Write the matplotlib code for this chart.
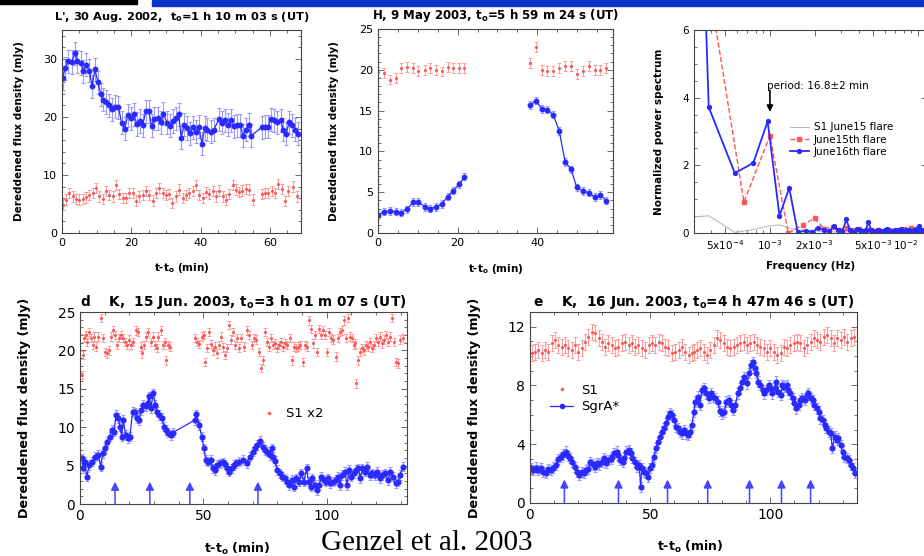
import matplotlib.pyplot as plt
from matplotlib.patches import Rectangle
from matplotlib.lines import Line2D
from matplotlib.ticker import MultipleLocator, FixedLocator, NullFormatter

plt.rcParams['font.family'] = ['DejaVu Sans']
plt.rcParams['mathtext.default'] = 'regular'

# ---- panel a : L', 30 Aug 2002 ----
t_a_sgr = [0.2, 0.9, 1.8, 2.8, 3.8, 4.4, 5.4, 6.2, 6.9, 7.9, 8.7, 9.5, 10.4, 11.2, 11.9,
           12.7, 13.7, 14.5, 15.4, 16.3, 17.2, 18.1, 19.0, 19.9, 20.7, 21.6, 22.5, 23.3,
           24.2, 25.0, 25.9, 26.7, 27.6, 28.6, 29.3, 30.3, 31.2, 32.1, 32.9, 33.7, 34.4,
           35.3, 36.1, 36.9, 37.7, 38.7, 39.5, 40.4, 41.2, 42.0, 42.9, 43.8, 45.3, 46.2,
           47.0, 47.9, 48.9, 49.6, 50.6, 51.5, 52.2, 53.1, 54.0, 54.7, 57.6, 58.5, 59.5,
           60.3, 61.3, 62.1, 63.1, 63.9, 64.7, 65.6, 66.5, 67.4, 68.2]
f_a_sgr = [26.7, 28.4, 29.6, 29.5, 31.0, 29.6, 29.3, 27.9, 29.0, 28.0, 25.3, 28.2, 26.0,
           23.9, 23.0, 22.6, 22.0, 21.3, 21.8, 21.7, 19.0, 18.0, 20.3, 19.8, 20.5, 18.8,
           19.3, 18.6, 21.0, 21.0, 18.5, 19.7, 19.8, 19.1, 20.6, 19.0, 18.5, 19.3, 19.8,
           20.5, 16.4, 18.7, 18.1, 17.2, 18.2, 17.5, 18.3, 15.4, 18.1, 17.8, 17.5, 17.8,
           19.6, 19.0, 19.4, 18.7, 19.4, 18.4, 18.6, 18.6, 16.8, 17.8, 18.7, 16.8, 18.2,
           18.3, 18.3, 19.6, 19.4, 19.1, 19.4, 17.8, 17.1, 19.1, 18.6, 17.8, 17.1]
t_a_s1 = [0.2, 1.2, 2.1, 3.1, 4.0, 5.0, 6.0, 6.9, 7.9, 8.9, 9.8, 10.8, 11.7, 12.7, 13.7,
          14.6, 15.6, 16.6, 17.5, 18.5, 19.4, 20.4, 21.4, 22.3, 23.3, 24.2, 25.2, 26.2,
          27.1, 28.1, 29.1, 30.0, 31.0, 31.9, 32.9, 33.9, 34.8, 35.8, 36.8, 37.7, 38.7,
          39.6, 40.6, 41.6, 42.5, 43.5, 44.4, 45.4, 46.4, 47.3, 48.3, 49.3, 50.2, 51.2,
          52.1, 53.1, 54.1, 55.0, 57.6, 58.6, 59.6, 60.5, 61.5, 62.4, 63.4, 64.4, 65.3,
          66.8, 67.9]
f_a_s1 = [4.9, 5.75, 6.9, 6.3, 5.9, 5.75, 5.9, 6.15, 6.6, 6.9, 7.8, 6.3, 5.9, 7.2, 6.6,
          6.3, 8.3, 6.7, 6.0, 6.0, 6.9, 6.9, 5.6, 6.3, 6.6, 7.2, 6.6, 5.6, 6.9, 7.8,
          6.9, 6.6, 6.7, 5.2, 6.3, 7.5, 6.0, 6.6, 6.9, 7.2, 8.3, 6.6, 6.0, 7.1, 6.7,
          7.2, 6.3, 7.3, 6.3, 5.75, 6.7, 8.3, 7.5, 7.1, 7.3, 7.6, 7.5, 5.75, 6.7, 6.9,
          6.9, 7.2, 6.9, 8.45, 7.6, 5.5, 7.2, 8.0, 6.3]

# ---- panel b : H, 9 May 2003 (two runs with a gap) ----
t_b1 = [0.1, 1.5, 3.0, 4.5, 5.7, 7.2, 8.9, 10.1, 11.8, 13.1, 14.6, 16.0, 17.5, 18.9, 20.4, 21.7]
f_b1_sgr = [2.2, 2.6, 2.7, 2.6, 2.5, 2.9, 3.8, 3.8, 3.2, 3.0, 3.2, 3.55, 4.45, 5.2, 5.96, 6.9]
f_b1_s1 = [19.7, 19.6, 18.8, 19.0, 20.2, 20.3, 20.2, 19.9, 20.0, 20.2, 20.0, 19.8, 20.3, 20.2, 20.2, 20.2]
t_b2 = [38.2, 39.7, 41.1, 42.5, 44.0, 45.5, 47.0, 48.5, 49.9, 51.4, 52.9, 54.4, 55.8, 57.3]
f_b2_sgr = [15.7, 16.2, 15.2, 15.1, 14.5, 12.5, 8.7, 7.8, 5.6, 5.15, 4.95, 4.4, 4.65, 3.95]
f_b2_s1 = [20.8, 22.8, 20.0, 19.9, 19.9, 20.2, 20.5, 20.5, 19.5, 19.9, 20.5, 20.0, 20.0, 20.2]

# ---- panel c : power spectra ----
freq_16 = [1.93e-4, 3.86e-4, 5.79e-4, 7.72e-4, 9.65e-4, 1.16e-3, 1.35e-3, 1.54e-3, 1.74e-3,
           1.93e-3, 2.12e-3, 2.32e-3, 2.51e-3, 2.70e-3, 2.90e-3, 3.09e-3, 3.28e-3, 3.47e-3,
           3.67e-3, 3.86e-3, 4.05e-3, 4.25e-3, 4.44e-3, 4.63e-3, 4.83e-3, 5.02e-3, 5.21e-3,
           5.40e-3, 5.60e-3, 5.79e-3, 5.98e-3, 6.18e-3, 6.37e-3, 6.56e-3, 6.76e-3, 6.95e-3,
           7.14e-3, 7.33e-3, 7.53e-3, 7.72e-3, 7.91e-3, 8.11e-3, 8.30e-3, 8.49e-3, 8.69e-3,
           8.88e-3, 9.07e-3, 9.26e-3, 9.46e-3, 9.65e-3, 9.84e-3, 1.004e-2, 1.023e-2, 1.042e-2,
           1.062e-2, 1.081e-2, 1.100e-2, 1.119e-2]
pow_16 = [44.0, 3.72, 1.77, 2.07, 3.3, 0.51, 1.33, 0.02, 0.07, 0.03, 0.15, 0.1, 0.05, 0.2,
          0.1, 0.06, 0.4, 0.08, 0.04, 0.12, 0.08, 0.05, 0.1, 0.32, 0.08, 0.04, 0.06, 0.1,
          0.05, 0.03, 0.08, 0.12, 0.05, 0.03, 0.06, 0.1, 0.04, 0.08, 0.05, 0.12, 0.06, 0.03,
          0.08, 0.05, 0.1, 0.04, 0.06, 0.03, 0.08, 0.12, 0.05, 0.04, 0.2, 0.06, 0.1, 0.05,
          0.08, 0.04]
freq_15 = [3.33e-4, 6.67e-4, 1.0e-3, 1.33e-3, 1.67e-3, 2.0e-3, 2.33e-3, 2.67e-3, 3.0e-3,
           3.33e-3, 3.67e-3, 4.0e-3, 4.33e-3, 4.67e-3, 5.0e-3, 5.33e-3, 5.67e-3, 6.0e-3,
           6.33e-3, 6.67e-3, 7.0e-3, 7.33e-3, 7.67e-3, 8.0e-3, 8.33e-3, 8.67e-3, 9.0e-3,
           9.33e-3, 9.67e-3, 1.0e-2, 1.033e-2, 1.067e-2, 1.1e-2, 1.133e-2]
pow_15 = [9.1, 0.92, 2.87, 0.0, 0.24, 0.43, 0.12, 0.19, 0.1, 0.15, 0.08, 0.12, 0.06, 0.1,
          0.05, 0.08, 0.04, 0.06, 0.1, 0.05, 0.07, 0.04, 0.08, 0.12, 0.06, 0.05, 0.15, 0.08,
          0.05, 0.1, 0.06, 0.07, 0.04, 0.05]
pow_s1 = [0.4, 0.51, 0.02, 0.1, 0.2, 0.24, 0.15, 0.08, 0.1, 0.05, 0.06, 0.04, 0.05, 0.03,
          0.04, 0.05, 0.03, 0.04, 0.02, 0.03, 0.04, 0.02, 0.03, 0.02, 0.03, 0.02, 0.03, 0.02,
          0.02, 0.03, 0.02, 0.02, 0.03, 0.02, 0.02, 0.03, 0.02, 0.02, 0.02, 0.03, 0.02, 0.02,
          0.02, 0.02, 0.03, 0.02, 0.02, 0.02, 0.02, 0.02, 0.02, 0.02, 0.02, 0.02, 0.02, 0.02,
          0.02, 0.02]

# ---- panel d : K, 15 Jun 2003 ----
t_d_sgr = [0.7, 1.35, 2.0, 2.7, 3.8, 4.7, 6.1, 7.4, 8.4, 9.2, 10.1, 11.1, 12.1, 12.8, 13.8,
           14.6, 15.5, 16.2, 16.9, 17.5, 18.5, 19.3, 20.2, 21.3, 22.3, 23.2, 24.0, 24.7,
           25.6, 26.6, 27.4, 28.1, 28.7, 29.7, 30.5, 31.3, 32.1, 33.1, 34.0, 34.8, 35.8,
           36.7, 37.5, 46.6, 47.2, 48.3, 49.3, 50.2, 51.0, 52.0, 52.9, 53.7, 54.7, 55.6,
           56.7, 57.8, 58.7, 59.4, 60.5, 61.4, 62.3, 63.4, 64.5, 66.1, 67.5, 68.8, 69.9,
           70.9, 71.8, 72.9, 74.0, 74.9, 75.8, 76.9, 77.6, 78.3, 79.1, 79.9, 81.0, 82.0,
           83.0, 83.7, 84.7, 85.7, 86.6, 87.7, 88.8, 89.7, 90.7, 91.8, 92.6, 93.4, 94.2,
           95.1, 96.1, 96.9, 97.8, 98.8, 99.6, 100.5, 101.5, 102.6, 103.6, 104.6, 105.3,
           106.3, 107.3, 108.2, 109.0, 110.0, 110.9, 112.0, 112.8, 113.6, 114.4, 115.4,
           116.3, 117.4, 118.5, 119.4, 120.4, 121.5, 122.5, 123.6, 124.8, 125.8, 126.9,
           127.9, 128.9, 129.8, 130.9]
f_d_sgr = [5.95, 4.64, 5.5, 3.56, 5.08, 5.5, 6.16, 6.38, 4.86, 6.6, 7.25, 8.12, 8.77, 9.64,
           9.42, 11.6, 11.2, 10.07, 8.77, 10.94, 8.98, 8.55, 8.77, 12.03, 11.94, 11.2, 10.94,
           12.25, 12.9, 12.7, 13.1, 14.0, 12.47, 14.4, 12.9, 12.03, 11.6, 11.2, 10.07, 9.64,
           9.29, 8.98, 9.29, 10.94, 11.68, 10.29, 8.77, 7.25, 5.73, 5.5, 5.73, 4.64, 4.43,
           5.08, 5.29, 5.43, 5.16, 4.64, 4.2, 4.64, 5.08, 5.29, 5.5, 5.73, 5.29, 6.16, 6.81,
           7.25, 7.68, 8.2, 7.47, 7.03, 6.81, 6.38, 7.25, 6.16, 5.6, 4.43, 4.0, 3.56, 3.34,
           2.9, 2.47, 3.12, 2.25, 3.34, 2.9, 4.0, 2.9, 4.64, 2.9, 2.25, 3.34, 2.47, 1.82,
           2.47, 3.56, 3.12, 2.9, 3.34, 2.69, 2.9, 3.12, 3.56, 2.47, 3.77, 4.2, 2.47, 4.43,
           3.56, 4.0, 4.43, 4.64, 3.34, 4.64, 4.2, 4.86, 3.77, 4.0, 3.77, 4.2, 3.34, 3.77,
           4.0, 3.12, 4.2, 3.56, 2.69, 2.9, 3.77, 4.86]
t_d_s1 = [0.7, 1.1, 1.6, 2.4, 3.0, 3.8, 4.3, 5.1, 5.7, 6.5, 7.4, 8.4, 9.2, 10.1, 10.8, 11.6,
          12.4, 13.2, 14.0, 14.8, 15.7, 16.5, 17.3, 18.1, 18.9, 19.7, 20.5, 21.6, 22.7, 23.6,
          24.6, 25.1, 25.9, 26.7, 27.7, 28.6, 29.4, 30.2, 31.0, 31.8, 32.7, 33.5, 34.3, 34.8,
          35.6, 36.4, 46.6, 47.5, 48.3, 49.3, 50.2, 50.7, 51.6, 52.4, 53.2, 54.0, 54.8, 55.6,
          56.4, 57.2, 58.0, 58.8, 59.6, 60.5, 61.3, 62.1, 62.9, 63.7, 64.5, 65.4, 66.4, 67.5,
          68.6, 69.5, 70.5, 71.5, 72.6, 73.4, 74.2, 75.0, 75.8, 76.6, 77.5, 78.3, 79.1, 79.9,
          80.7, 81.5, 82.3, 83.1, 83.9, 85.0, 85.8, 86.6, 87.7, 88.5, 89.3, 90.4, 91.2, 92.0,
          92.8, 93.7, 94.5, 95.3, 96.1, 96.9, 97.7, 98.5, 99.3, 100.1, 101.0, 101.8, 102.6,
          103.6, 104.5, 105.3, 106.1, 106.9, 107.7, 108.5, 109.3, 110.1, 110.9, 111.5, 112.0,
          112.8, 113.4, 114.2, 115.0, 115.8, 116.6, 117.4, 118.2, 119.0, 119.8, 120.6, 121.5,
          122.3, 123.1, 123.9, 124.7, 125.5, 126.3, 127.1, 127.9, 129.0, 129.8, 130.9]
f_d_s1 = [16.8, 19.4, 21.6, 22.0, 21.1, 22.4, 21.6, 20.7, 21.8, 20.5, 21.8, 24.2, 21.6, 19.8,
          19.6, 20.0, 21.8, 22.6, 22.0, 20.7, 21.6, 22.0, 21.6, 21.1, 20.7, 21.4, 20.7, 21.1,
          22.6, 22.4, 20.5, 19.6, 20.7, 21.8, 22.4, 21.1, 21.8, 20.7, 20.3, 21.8, 22.6, 20.7,
          21.1, 18.7, 20.7, 20.5, 21.6, 21.1, 20.8, 21.8, 22.0, 18.5, 20.3, 22.4, 20.8, 20.0,
          20.5, 19.6, 20.7, 21.8, 20.4, 19.4, 20.3, 23.3, 21.4, 22.4, 20.7, 21.6, 20.3, 21.6,
          20.5, 22.6, 22.0, 20.7, 21.6, 21.4, 19.8, 17.7, 18.7, 22.4, 21.1, 20.5, 21.6, 20.7,
          20.9, 20.3, 20.7, 21.1, 20.5, 20.9, 20.7, 21.6, 18.7, 20.5, 20.3, 20.5, 20.7, 18.5,
          20.7, 20.5, 23.9, 22.8, 20.9, 22.0, 19.8, 22.8, 22.0, 22.6, 22.0, 19.8, 22.4, 21.6,
          21.4, 19.2, 21.6, 22.4, 22.6, 23.9, 21.6, 24.2, 21.8, 21.6, 20.7, 20.9, 15.7, 18.7,
          19.8, 20.3, 20.0, 20.7, 20.5, 21.1, 20.3, 20.7, 21.6, 21.1, 21.8, 20.9, 21.4, 22.0,
          21.1, 21.8, 24.2, 21.1, 18.5, 18.3, 21.4, 21.6]
arrows_d = [14.2, 28.3, 44.5, 72.1]

# ---- panel e : K, 16 Jun 2003 ----
t_e_sgr = [0.4, 1.4, 2.4, 3.5, 4.6, 5.6, 6.5, 7.6, 8.75, 9.7, 10.7, 11.8, 12.9, 13.9, 14.9,
           16.0, 16.8, 17.6, 18.75, 19.6, 20.4, 21.5, 22.4, 23.2, 24.3, 25.1, 26.0, 27.1,
           27.9, 28.75, 29.9, 30.7, 31.5, 32.6, 33.5, 34.3, 35.1, 36.1, 36.8, 37.6, 38.5,
           39.3, 40.1, 41.0, 41.8, 42.6, 43.75, 44.6, 45.4, 46.0, 46.5, 47.4, 48.2, 49.0,
           49.9, 50.7, 51.5, 52.4, 53.2, 54.0, 54.9, 55.7, 56.5, 57.4, 58.2, 59.0, 59.9,
           60.7, 61.5, 62.4, 63.2, 64.0, 64.9, 65.7, 66.5, 67.4, 68.2, 68.75, 69.7, 70.6,
           71.5, 72.5, 73.3, 74.3, 75.3, 76.1, 77.1, 78.1, 78.9, 79.9, 80.8, 81.7, 82.6,
           83.6, 84.4, 85.4, 86.4, 87.2, 88.2, 89.2, 90.3, 91.1, 91.9, 92.8, 93.5, 94.2,
           95.0, 95.8, 96.7, 97.5, 98.3, 99.2, 100.0, 100.8, 101.7, 102.5, 103.3, 104.2,
           105.0, 105.8, 106.7, 107.5, 108.3, 109.2, 110.0, 110.8, 111.7, 112.5, 113.3,
           114.2, 115.0, 115.8, 116.7, 117.5, 118.3, 119.2, 120.0, 120.8, 121.7, 122.5,
           123.3, 124.2, 125.0, 125.8, 126.7, 127.5, 128.3, 129.2, 130.0, 130.8, 131.7,
           132.5, 133.3, 134.2, 135.0]
f_e_sgr = [2.36, 2.25, 2.41, 2.25, 2.36, 2.13, 2.02, 2.32, 2.25, 2.41, 2.59, 3.0, 3.15, 3.31,
           3.5, 3.22, 3.04, 2.81, 2.47, 2.13, 1.91, 2.13, 2.02, 2.25, 2.32, 2.81, 2.63, 2.47,
           2.7, 2.63, 2.77, 3.04, 2.7, 2.93, 3.0, 3.15, 3.38, 3.5, 3.27, 2.93, 2.77, 3.04,
           3.5, 3.61, 3.38, 3.04, 2.81, 2.47, 2.59, 1.11, 2.36, 2.13, 2.02, 1.79, 2.36, 2.59,
           3.15, 3.72, 4.17, 4.51, 4.86, 5.09, 5.42, 5.88, 6.1, 5.99, 5.65, 5.2, 5.09, 4.86,
           4.74, 4.97, 4.74, 4.63, 4.86, 5.31, 6.22, 6.9, 7.24, 6.67, 7.69, 7.8, 7.46, 7.13,
           7.46, 7.24, 7.13, 6.9, 6.26, 6.1, 6.22, 6.9, 7.01, 6.67, 6.33, 6.67, 7.46, 7.8,
           8.26, 8.6, 8.14, 8.83, 9.4, 9.62, 9.17, 8.83, 8.26, 8.03, 7.69, 7.46, 7.69, 8.03,
           7.8, 7.46, 7.8, 8.26, 7.58, 7.35, 8.03, 7.92, 8.03, 7.69, 7.46, 7.13, 6.78, 6.44,
           6.67, 7.01, 7.13, 7.01, 7.35, 7.46, 7.13, 7.01, 6.67, 6.44, 6.22, 5.76, 5.65, 5.31,
           5.09, 4.86, 4.74, 3.72, 4.52, 4.29, 4.4, 3.95, 3.5, 3.15, 3.04, 2.93, 2.59, 2.36,
           2.02]
t_e_s1 = [0.7, 2.1, 3.5, 4.9, 6.25, 7.6, 9.0, 10.4, 11.8, 13.2, 14.6, 16.0, 17.4, 18.75,
          20.1, 21.5, 22.9, 24.3, 25.7, 27.1, 28.5, 29.9, 31.25, 32.6, 34.0, 35.4, 36.8,
          38.2, 39.6, 41.0, 42.4, 43.75, 45.1, 46.5, 47.9, 49.3, 50.7, 52.1, 53.5, 54.9,
          56.25, 57.6, 59.0, 60.4, 61.8, 63.2, 64.6, 66.0, 67.4, 68.1, 69.4, 70.8, 72.2,
          73.6, 75.0, 76.4, 77.8, 79.2, 80.6, 81.9, 83.3, 84.7, 86.1, 87.5, 88.9, 90.3,
          91.7, 93.1, 94.4, 95.8, 97.2, 98.6, 100.0, 101.4, 102.8, 104.2, 105.6, 106.9,
          108.3, 109.7, 111.1, 112.5, 113.9, 115.3, 116.7, 118.1, 119.4, 120.8, 122.2,
          123.6, 125.0, 126.4, 127.8, 129.2, 130.6, 131.9, 133.3, 134.7]
f_e_s1 = [10.19, 10.3, 10.42, 10.19, 10.42, 10.3, 10.87, 11.1, 10.76, 10.64, 10.76, 10.53,
          10.42, 10.76, 10.3, 10.53, 10.98, 11.32, 11.66, 11.55, 11.21, 10.98, 10.64, 10.87,
          10.76, 10.53, 10.64, 10.87, 10.98, 10.76, 10.87, 10.64, 10.76, 10.53, 10.42, 10.76,
          10.87, 10.76, 10.98, 10.87, 10.64, 10.53, 10.19, 10.3, 10.42, 10.64, 10.3, 10.08,
          10.19, 10.3, 10.42, 10.53, 10.3, 10.08, 10.42, 10.76, 11.21, 11.1, 10.87, 10.64,
          10.53, 10.64, 10.76, 10.87, 10.98, 10.76, 10.87, 10.98, 10.76, 10.64, 10.53, 10.3,
          10.53, 10.3, 10.08, 10.19, 10.64, 10.53, 10.76, 10.87, 10.98, 10.87, 10.53, 10.76,
          10.98, 11.21, 11.1, 10.98, 11.32, 11.44, 11.21, 10.87, 11.21, 11.1, 11.32, 10.98,
          11.21, 11.32]
arrows_e = [14.3, 36.8, 57.2, 73.9, 91.3, 104.6, 116.7]

BLUE = '#2a2aff'
BLUE_ERR = '#9a9aff'
RED = '#ff5555'
RED_ERR = '#ff9a9a'
FLUX_LABEL = 'Dereddened flux density (mJy)'


def frame(ax, xmaj, xmin, ymaj, ymin, size):
    ax.xaxis.set_major_locator(MultipleLocator(xmaj))
    ax.xaxis.set_minor_locator(MultipleLocator(xmin))
    ax.yaxis.set_major_locator(MultipleLocator(ymaj))
    ax.yaxis.set_minor_locator(MultipleLocator(ymin))
    ax.tick_params(which='both', direction='in', top=True, right=True,
                   labelsize=size, width=0.6, color='#555555')
    ax.tick_params(which='major', length=4)
    ax.tick_params(which='minor', length=2)
    for s in ax.spines.values():
        s.set_linewidth(0.8)
        s.set_color('#444444')


def sgr(ax, t, f, err, ms):
    ax.errorbar(t, f, yerr=err, fmt='-o', color=BLUE, ms=ms, lw=0.9,
                ecolor=BLUE_ERR, elinewidth=0.8, capsize=1.5, capthick=0.8)


def s1(ax, t, f, err):
    ax.errorbar(t, f, yerr=err, fmt='.', color=RED, ms=2.5,
                ecolor=RED_ERR, elinewidth=0.7, capsize=1.3, capthick=0.7)


def arrows(ax, ts, top):
    for t in ts:
        ax.annotate('', xy=(t, top), xytext=(t, 0),
                    arrowprops=dict(arrowstyle='-|>', color='#4545ff', lw=1.1,
                                    mutation_scale=12, shrinkA=0, shrinkB=0))


fig = plt.figure(figsize=(9.24, 5.56), dpi=100)

# slide header bars
fig.patches.append(Rectangle((0, 1 - 4 / 556), 137 / 924, 4 / 556, transform=fig.transFigure,
                             color='black', zorder=0))
fig.patches.append(Rectangle((152 / 924, 1 - 6 / 556), 772 / 924, 6 / 556, transform=fig.transFigure,
                             color='#0a33cc', zorder=0))

# panel a
ax = fig.add_axes([62 / 924, 1 - 233 / 556, 239 / 924, 203 / 556])
s1(ax, t_a_s1, f_a_s1, 0.9)
sgr(ax, t_a_sgr, f_a_sgr, 2.0, 3.2)
ax.set_xlim(0, 69)
ax.set_ylim(0, 35)
frame(ax, 20, 5, 10, 2, 8)
ax.set_title("L', 30 Aug. 2002,  t$_o$=1 h 10 m 03 s (UT)", fontsize=8.2,
             fontweight='bold', pad=7)
ax.set_ylabel(FLUX_LABEL, fontsize=7.5, fontweight='bold')
ax.set_xlabel('t-t$_o$ (min)', fontsize=7.5, fontweight='bold')
ax.yaxis.set_label_coords(-0.16, 0.5)
ax.xaxis.set_label_coords(0.5, -0.14)

# panel b
ax = fig.add_axes([378 / 924, 1 - 233 / 556, 235 / 924, 204 / 556])
s1(ax, t_b1, f_b1_s1, 0.6)
s1(ax, t_b2, f_b2_s1, 0.6)
sgr(ax, t_b1, f_b1_sgr, 0.45, 3.2)
sgr(ax, t_b2, f_b2_sgr, 0.45, 3.2)
ax.set_xlim(0, 59)
ax.set_ylim(0, 25)
frame(ax, 20, 5, 5, 1, 8)
ax.set_title('H, 9 May 2003, t$_o$=5 h 59 m 24 s (UT)', fontsize=8.5,
             fontweight='bold', pad=7)
ax.set_ylabel(FLUX_LABEL, fontsize=7.5, fontweight='bold')
ax.set_xlabel('t-t$_o$ (min)', fontsize=7.5, fontweight='bold')
ax.yaxis.set_label_coords(-0.165, 0.5)
ax.xaxis.set_label_coords(0.5, -0.14)

# panel c
ax = fig.add_axes([694 / 924, 1 - 233 / 556, 233 / 924, 203 / 556])
ax.plot(freq_16, pow_s1, '-', color='#bbbbbb', lw=0.8, label='S1 June15 flare')
ax.plot(freq_15, pow_15, '--', color=RED, lw=1.0, marker='s', ms=2.2, label='June15th flare')
ax.plot(freq_16, pow_16, '-', color=BLUE, lw=1.3, marker='o', ms=2.8, label='June16th flare')
ax.set_xscale('log')
ax.set_xlim(3.07e-4, 1.15e-2)
ax.set_ylim(0, 6)
ax.yaxis.set_major_locator(MultipleLocator(2))
ax.yaxis.set_minor_locator(MultipleLocator(0.5))
ax.xaxis.set_major_locator(FixedLocator([5e-4, 1e-3, 2e-3, 5e-3, 1e-2]))
ax.set_xticklabels(['5x10$^{-4}$', '10$^{-3}$', '2x10$^{-3}$', '5x10$^{-3}$', '10$^{-2}$'])
ax.get_xticklabels()[-1].set_horizontalalignment('right')
ax.xaxis.set_minor_formatter(NullFormatter())
ax.tick_params(which='both', direction='in', top=True, right=True, labelsize=7.5,
               width=0.6, color='#555555')
ax.tick_params(which='major', length=4)
ax.tick_params(which='minor', length=2)
for s in ax.spines.values():
    s.set_linewidth(0.8)
    s.set_color('#444444')
ax.annotate('', xy=(1e-3, 3.58), xytext=(1e-3, 4.22),
            arrowprops=dict(arrowstyle='-|>', color='black', lw=1.2, mutation_scale=9,
                            shrinkA=0, shrinkB=0))
ax.text(2.1e-3, 4.35, 'period: 16.8±2 min', fontsize=7.5, ha='center', va='center')
ax.legend(loc='upper left', bbox_to_anchor=(0.39, 0.57), frameon=False, fontsize=7.5,
          handlelength=1.8, handletextpad=0.5, labelspacing=0.2, borderpad=0)
ax.set_ylabel('Normalized power spectrum', fontsize=7.5, fontweight='bold')
ax.set_xlabel('Frequency (Hz)', fontsize=7.5, fontweight='bold')
ax.yaxis.set_label_coords(-0.13, 0.5)
ax.xaxis.set_label_coords(0.5, -0.14)

# panel d
ax = fig.add_axes([80 / 924, 1 - 504 / 556, 327 / 924, 192 / 556])
s1(ax, t_d_s1, f_d_s1, 0.55)
sgr(ax, t_d_sgr, f_d_sgr, 0.6, 3.4)
arrows(ax, arrows_d, 2.9)
ax.set_xlim(0, 132.5)
ax.set_ylim(0, 25)
frame(ax, 50, 10, 5, 1, 10)
ax.set_title('d    K,  15 Jun. 2003, t$_o$=3 h 01 m 07 s (UT)', fontsize=9.8,
             fontweight='bold', pad=4)
ax.set_ylabel(FLUX_LABEL, fontsize=9.2, fontweight='bold')
ax.set_xlabel('t-t$_o$ (min)', fontsize=9, fontweight='bold')
ax.yaxis.set_label_coords(-0.15, 0.5)
ax.xaxis.set_label_coords(0.48, -0.19)
ax.legend(handles=[Line2D([], [], ls='none', marker='.', ms=3, color=RED, label='S1 x2')],
          loc='center left', bbox_to_anchor=(0.51, 0.47), frameon=False, fontsize=9.5,
          handlelength=1.5, handletextpad=0.6)

# panel e
ax = fig.add_axes([530 / 924, 1 - 503 / 556, 327 / 924, 191 / 556])
s1(ax, t_e_s1, f_e_s1, 0.55)
sgr(ax, t_e_sgr, f_e_sgr, 0.35, 3.4)
arrows(ax, arrows_e, 1.6)
ax.set_xlim(0, 136)
ax.set_ylim(0, 13)
frame(ax, 50, 10, 4, 1, 10)
ax.set_title('e    K,  16 Jun. 2003, t$_o$=4 h 47m 46 s (UT)', fontsize=9.8,
             fontweight='bold', pad=4)
ax.set_ylabel(FLUX_LABEL, fontsize=9.2, fontweight='bold')
ax.set_xlabel('t-t$_o$ (min)', fontsize=9, fontweight='bold')
ax.yaxis.set_label_coords(-0.15, 0.5)
ax.xaxis.set_label_coords(0.49, -0.19)
leg_handles = [Line2D([], [], ls='none', marker='.', ms=3, color=RED, label='S1'),
               Line2D([], [], ls='-', marker='o', ms=3, lw=0.9, color=BLUE, label='SgrA*')]
ax.legend(handles=leg_handles, loc='upper left', bbox_to_anchor=(0.04, 0.66), frameon=False,
          fontsize=9.5, handlelength=1.8, handletextpad=0.6, labelspacing=0.3, borderpad=0)

fig.text(427 / 924, 6 / 556, 'Genzel et al. 2003', family='Liberation Serif', fontsize=21,
         ha='center', va='baseline')

fig.savefig('out.png', dpi=100)
